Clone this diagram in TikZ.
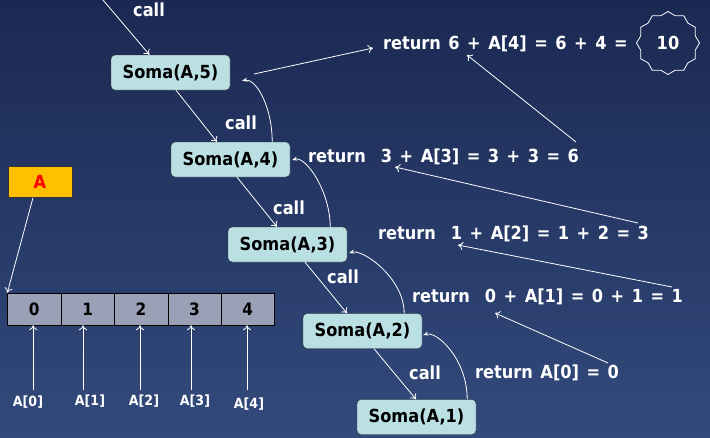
\documentclass[tikz,border=0pt]{standalone}
\usepackage{fontspec}
\setmainfont{DejaVu Sans Condensed}
\newfontfamily\wfont{DejaVu Sans Condensed}[WordSpace=1.33]
\usetikzlibrary{arrows.meta,shapes.geometric,calc}
\definecolor{bgtop}{RGB}{27,41,82}
\definecolor{bgbot}{RGB}{50,74,124}
\definecolor{boxfill}{RGB}{186,224,228}
\definecolor{cellfill}{RGB}{154,160,181}
\definecolor{afill}{RGB}{255,192,0}
\tikzset{
  soma/.style={draw=black!80, fill=boxfill, rounded corners=4pt, minimum width=119pt, minimum height=35pt, inner sep=0pt, font=\fontsize{18}{21}\selectfont\bfseries, text=black},
  cell/.style={draw=black, fill=cellfill, minimum width=53.4pt, minimum height=32pt, inner sep=0pt, font=\fontsize{17}{20}\selectfont\bfseries, text=black},
  wtxt/.style={text=white, font=\wfont\fontsize{18}{21}\selectfont\bfseries, inner sep=0pt},
  idx/.style={text=white, font=\fontsize{14}{16}\selectfont\bfseries, inner sep=1pt},
  callarrow/.style={draw=white, line width=0.8pt, -{To[length=5pt,width=8pt]}},
  retarrow/.style={draw=white, line width=0.8pt, -{Stealth[length=5pt,width=4pt]}},
}
\begin{document}
\begin{tikzpicture}[x=1pt,y=-1pt]
\useasboundingbox (0,0) rectangle (710,437);
\shade[top color=bgtop, middle color=bgtop, bottom color=bgbot] (0,0) rectangle (710,437);

% Soma nodes
\node[soma] (s5) at (170.5,72.5) {Soma(A,5)};
\node[soma] (s4) at (230.5,159.5) {Soma(A,4)};
\node[soma] (s3) at (287.5,244.5) {Soma(A,3)};
\node[soma] (s2) at (362.5,331) {Soma(A,2)};
\node[soma] (s1) at (416.5,417) {Soma(A,1)};

% call labels
\node[wtxt] (k5) at (149,10) {call};
\node[wtxt] (k4) at (241,123) {call};
\node[wtxt] (k3) at (289,208) {call};
\node[wtxt] (k2) at (343,277) {call};
\node[wtxt] (k1) at (425,373) {call};

% call arrows
\coordinate (top) at (103,0);
\draw[callarrow] (top) -- ([xshift=-21pt]s5.north);
\draw[callarrow] ([xshift=5.5pt]s5.south) -- ([xshift=-13.5pt]s4.north);
\draw[callarrow] ([xshift=6.5pt]s4.south) -- ([xshift=-10.5pt]s3.north);
\draw[callarrow] ([xshift=17.5pt]s3.south) -- ([xshift=-15.5pt]s2.north);
\draw[callarrow] ([xshift=11.5pt]s2.south) -- ([xshift=-0.5pt]s1.north);

% return curves
\draw[retarrow] ([xshift=-18pt]s4.north east) .. controls +(0,-35) and +(14,-2) .. ([shift={(12,8)}]s5.east);
\draw[retarrow] ([xshift=-17pt]s3.north east) .. controls +(0,-35) and +(14,-4) .. ([shift={(2,0.5)}]s4.east);
\draw[retarrow] ([xshift=-18pt]s2.north east) .. controls +(0,-35) and +(14,-4) .. ([shift={(2,8.5)}]s3.east);
\draw[retarrow] ([xshift=-9pt]s1.north east) .. controls +(0,-40) and +(14,-4) .. ([shift={(1,4)}]s2.east);

% return texts
\node[wtxt, anchor=west] (r5) at (383,44) {return 6 + A[4] = 6 + 4 =};
\node[draw=white, line width=0.8pt, star, star points=12, star point ratio=1.12, minimum size=63pt, inner sep=0pt, wtxt] (ten) at (668,43) {10};
\node[wtxt, anchor=west] (r4) at (308,157) {return\ \ 3 + A[3] = 3 + 3 = 6};
\node[wtxt, anchor=west] (r3) at (378,234) {return\ \ 1 + A[2] = 1 + 2 = 3};
\node[wtxt, anchor=west] (r2) at (412,297) {return\ \ 0 + A[1] = 0 + 1 = 1};
\node[wtxt, anchor=west] (r1) at (475,373) {return A[0] = 0};

% arrows between returns
\coordinate (a5s) at (254,74);
\coordinate (a5e) at (373,48);
\draw[callarrow] (a5s) -- (a5e);
\coordinate (a4s) at (576,142);
\coordinate (a4e) at (467,55);
\draw[callarrow] (a4s) -- (a4e);
\coordinate (a3s) at (638,223);
\coordinate (a3e) at (395,167);
\draw[callarrow] (a3s) -- (a3e);
\coordinate (a2s) at (672,287);
\coordinate (a2e) at (458,245);
\draw[callarrow] (a2s) -- (a2e);
\coordinate (a1s) at (608,363);
\coordinate (a1e) at (495,313);
\draw[callarrow] (a1s) -- (a1e);

% array A
\node[draw=black!80, fill=afill, minimum width=64pt, minimum height=31pt, inner sep=0pt, text=red, font=\fontsize{18}{21}\selectfont\bfseries] (A) at (40,182) {A};
\foreach \i/\x in {0/34.2,1/87.6,2/141,3/194.4,4/247.8}{
  \node[cell] (c\i) at (\x,309) {\i};
}
\draw[callarrow] ([xshift=-7pt]A.south) -- (c0.north west);

% index labels
\node[idx] (l0) at (28,402) {A[0]};
\node[idx] (l1) at (90,401) {A[1]};
\node[idx] (l2) at (144,401) {A[2]};
\node[idx] (l3) at (195,401) {A[3]};
\node[idx] (l4) at (249,404) {A[4]};
\draw[callarrow] ([xshift=-1pt]c0.south |- 0,390) -- ([xshift=-1pt]c0.south);
\draw[callarrow] ([xshift=-4.6pt]c1.south |- 0,390) -- ([xshift=-4.6pt]c1.south);
\draw[callarrow] ([xshift=-1pt]c2.south |- 0,390) -- ([xshift=-1pt]c2.south);
\draw[callarrow] ([xshift=-3.4pt]c3.south |- 0,390) -- ([xshift=-3.4pt]c3.south);
\draw[callarrow] ([xshift=-0.8pt]c4.south |- 0,390) -- ([xshift=-0.8pt]c4.south);
\end{tikzpicture}
\end{document}
